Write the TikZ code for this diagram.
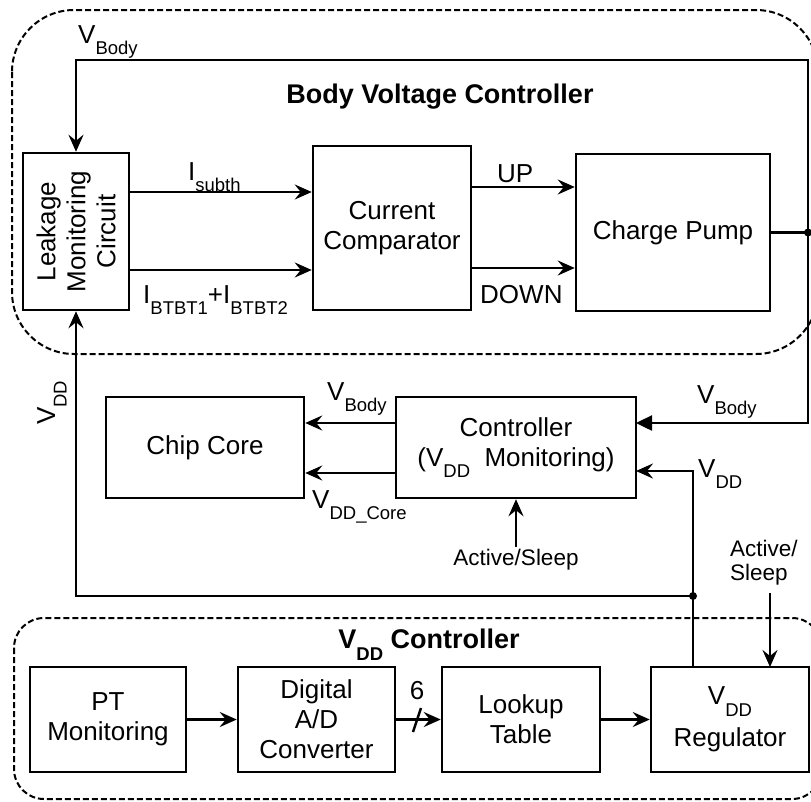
\documentclass[tikz,border=0pt]{standalone}
\usepackage{fontspec}
\setmainfont{Liberation Sans}
\usepackage{graphicx}
\usetikzlibrary{arrows.meta}
\newcommand\sbs[1]{\raisebox{-0.45em}{\fontsize{18.5}{20}\selectfont #1}}
\begin{document}
\begin{tikzpicture}[x=1pt,y=-1pt,
 box/.style={draw,line width=2.5pt,inner sep=0pt,align=center,font=\fontsize{26}{30}\selectfont},
 conn/.style={line width=2.5pt},
 arr/.style={conn,-{Stealth[length=17pt,width=15pt,inset=6pt]}},
 tri/.style={conn,-{Triangle[length=16pt,width=15pt]}},
 lbl/.style={inner sep=0pt,font=\fontsize{26}{30}\selectfont},
 small/.style={inner sep=0pt,font=\fontsize{22.5}{24}\selectfont,align=left},
 dbox/.style={dash pattern=on 6pt off 3pt,line width=2pt},
 jdot/.style={circle,fill,inner sep=0pt,minimum size=8pt}]
\clip (0,0) rectangle (811,801);
% dashed groups
\draw[dbox,rounded corners=62pt] (12,10) rectangle (818,354);
\draw[dbox,rounded corners=30pt] (14,618) rectangle (822,799);
% titles
\node[lbl,font=\fontsize{27}{30}\selectfont\bfseries] (t1) at (440,97) {Body Voltage Controller};
\node[lbl,font=\fontsize{27}{30}\selectfont\bfseries,anchor=base] (t2) at (429,648) {V\sbs{DD} Controller};
% blocks
\node[box,minimum width=106pt,minimum height=157pt] (lmc) at (76,231.5) {};
\node[lbl,rotate=90,align=center] (lmct) at (lmc.center) {Leakage\\Monitoring\\Circuit};
\node[box,minimum width=158pt,minimum height=164pt] (cc) at (392,228) {Current\\Comparator};
\node[box,minimum width=194pt,minimum height=157pt] (cp) at (673,232.5) {Charge Pump};
\node[box,minimum width=198pt,minimum height=101pt] (chip) at (205,447.5) {Chip Core};
\node[box,minimum width=240pt,minimum height=101pt] (ctrl) at (516,447.5) {Controller\\(V\sbs{DD}\ \ Monitoring)};
\node[box,minimum width=156pt,minimum height=105pt] (pt) at (108,719.5) {PT\\Monitoring};
\node[box,minimum width=157pt,minimum height=105pt] (adc) at (316.5,719.5) {Digital\\A/D\\Converter};
\node[box,minimum width=158pt,minimum height=105pt] (lut) at (521,719.5) {Lookup\\Table};
\node[box,minimum width=158pt,minimum height=105pt] (reg) at (730,719.5) {V\sbs{DD}\\[10pt]Regulator};
% coordinates
\coordinate (jr) at (808,232.5);
\coordinate (tr) at (808,60);
\coordinate (tl) at (76,60);
\coordinate (br) at (808,423);
\coordinate (cbe) at (636,423);
\coordinate (jv) at (693,596);
\coordinate (jvl) at (76,596);
\coordinate (vt) at (693,471);
\coordinate (cve) at (636,471);
\coordinate (asr) at (770,593);
\coordinate (regas) at (770,667);
\coordinate (regvd) at (693,667);
% body voltage controller connectors
\draw[arr] (lmc.east |- 0,192) -- (cc.west |- 0,192);
\draw[arr] (lmc.east |- 0,270) -- (cc.west |- 0,270);
\draw[arr] (cc.east |- 0,187) -- (cp.west |- 0,187);
\draw[arr] (cc.east |- 0,268) -- (cp.west |- 0,268);
\draw[conn] (cp.east) -- (jr);
\draw[arr] (jr) -- (tr) -- (tl) -- (lmc.north);
\draw[tri] (jr) -- (br) -- (cbe);
\node[jdot] at (jr) {};
% controller to chip core
\draw[arr] (ctrl.west |- 0,423) -- (chip.east |- 0,423);
\draw[arr] (ctrl.west |- 0,473) -- (chip.east |- 0,473);
% VDD lines
\draw[arr] (regvd) -- (vt) -- (cve);
\draw[arr] (jv) -- (jvl) -- (lmc.south);
\node[jdot] at (jv) {};
% Active/Sleep
\node[small,anchor=base] (as1) at (516,565) {Active/Sleep};
\draw[arr] (as1.north) ++(0,-2) -- (ctrl.south);
\node[small,anchor=north west] (as2) at (730,540) {Active/\\Sleep};
\draw[arr] (asr) -- (regas);
% bottom chain
\draw[arr] (pt.east) -- (adc.west);
\draw[arr] (adc.east) -- (lut.west);
\draw[conn] (413,732) -- (421,708);
\node[lbl] (six) at (417,691) {6};
\draw[arr] (lut.east) -- (reg.west);
% labels
\node[lbl,anchor=base west] (lvb1) at (78,43) {V\sbs{Body}};
\node[lbl,anchor=base west] (lis) at (188,180) {I\sbs{subth}};
\node[lbl,anchor=base west] (lib) at (143,303) {I\sbs{BTBT1}+I\sbs{BTBT2}};
\node[lbl,anchor=base west] (lup) at (497,182) {UP};
\node[lbl,anchor=base west] (ldn) at (480,303) {DOWN};
\node[lbl,anchor=base west] (lvb2) at (327,400) {V\sbs{Body}};
\node[lbl,anchor=base west] (lvc) at (312,508) {V\sbs{DD\_Core}};
\node[lbl,anchor=base west] (lvb3) at (697,403) {V\sbs{Body}};
\node[lbl,anchor=base west] (lvd) at (698,477) {V\sbs{DD}};
\node[lbl,anchor=base west,rotate=90] (lvdl) at (55,425) {V\sbs{DD}};
\end{tikzpicture}
\end{document}
